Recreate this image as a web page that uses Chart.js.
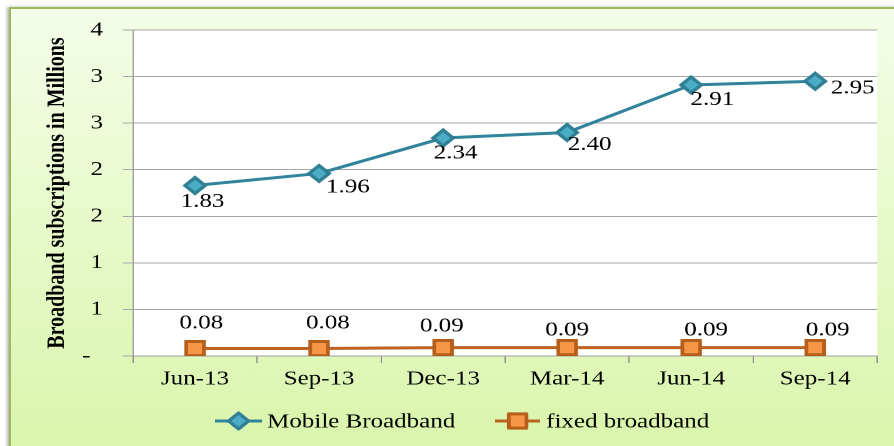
<!DOCTYPE html>
<html><head><meta charset="utf-8">
<script src="https://cdn.jsdelivr.net/npm/chart.js@4"></script>
<style>
html,body{margin:0;padding:0;background:#fff;width:894px;height:446px;overflow:hidden;}
#bg{position:absolute;left:9px;top:7px;width:900px;height:450px;border-left:2px solid #9bbb59;border-top:2px solid #9bbb59;background:linear-gradient(#f4fde8,#d9f5aa);box-shadow:-2px 0 3px rgba(0,0,0,0.3);}
#wrap{position:absolute;left:0;top:0;width:715px;height:446px;transform:scaleX(1.2503);transform-origin:0 0;}
</style></head><body>
<div id="bg"></div>
<div id="wrap"><canvas id="c" width="715" height="446"></canvas></div>
<script>
const categories = ['Jun-13','Sep-13','Dec-13','Mar-14','Jun-14','Sep-14'];
const mobileBroadband = [1.83, 1.96, 2.34, 2.40, 2.91, 2.95];
const fixedBroadband = [0.08, 0.08, 0.09, 0.09, 0.09, 0.09];
const seriesNames = ['Mobile Broadband', 'fixed broadband'];
const yAxisTitle = 'Broadband subscriptions in Millions';
const yMin = 0, yMax = 3.5, yStep = 0.5;

const SERIF = '"Liberation Serif", "Times New Roman", serif';

const styles = [
  {line:'#31849b', fill:'#4bacc6', border:'#2f7f95', style:'rectRot', r:8},
  {line:'#bd6420', fill:'#f79646', border:'#b65f1b', style:'rect', r:10}
];
const labelOffsets = [
  [[6,16],[23,14],[10,15],[18,12.5],[17,15],[30,7]],
  [[5,-25.5],[7,-25.5],[-1,-21.6],[0,-17.6],[12,-17.6],[10,-17.6]]
];

function drawMarker(ctx, st, x, y){
  ctx.save();
  ctx.beginPath();
  if(st.style==='rectRot'){
    ctx.moveTo(x-st.r,y);ctx.lineTo(x,y-st.r);ctx.lineTo(x+st.r,y);ctx.lineTo(x,y+st.r);
  } else {
    const h = st.r*Math.SQRT1_2;
    ctx.rect(x-h,y-h,2*h,2*h);
  }
  ctx.closePath();
  ctx.fillStyle=st.fill;ctx.fill();
  ctx.lineWidth=3;ctx.strokeStyle=st.border;ctx.lineJoin='round';ctx.stroke();
  ctx.restore();
}

const plotBg = {
  id:'plotBg',
  beforeDraw(chart){
    const {ctx, chartArea:a} = chart;
    ctx.save();ctx.fillStyle='#ffffff';ctx.fillRect(a.left,a.top,a.right-a.left,a.bottom-a.top);ctx.restore();
  }
};

const dataLabels = {
  id:'dataLabels',
  afterDatasetsDraw(chart){
    const ctx = chart.ctx;
    ctx.save();
    ctx.font = '20px '+SERIF;
    ctx.fillStyle='#000';ctx.textAlign='center';ctx.textBaseline='middle';
    chart.data.datasets.forEach((ds,i)=>{
      const meta = chart.getDatasetMeta(i);
      meta.data.forEach((pt,j)=>{
        const o = labelOffsets[i][j];
        ctx.fillText(ds.data[j].toFixed(2), pt.x+o[0], pt.y+o[1]);
      });
    });
    ctx.restore();
  }
};

const customLegend = {
  id:'customLegend',
  afterDraw(chart){
    const ctx = chart.ctx;
    const y = 421;
    const items = [{x0:172,x1:209.6,tx:213.6},{x0:396,x1:432,tx:436.8}];
    ctx.save();
    ctx.font='20px '+SERIF;ctx.textAlign='left';ctx.textBaseline='middle';
    items.forEach((it,i)=>{
      const st = styles[i];
      ctx.beginPath();ctx.moveTo(it.x0,y);ctx.lineTo(it.x1,y);
      ctx.strokeStyle=st.line;ctx.lineWidth=3;ctx.stroke();
      drawMarker(ctx, st, (it.x0+it.x1)/2, y);
      ctx.fillStyle='#000';
      ctx.fillText(chart.data.datasets[i].label, it.tx, y+1);
    });
    ctx.restore();
  }
};

const seriesData = [mobileBroadband, fixedBroadband];
new Chart(document.getElementById('c'), {
  type:'line',
  data:{
    labels:categories,
    datasets: seriesData.map((d,i)=>({
      label:seriesNames[i],
      data:d,
      borderColor:styles[i].line,
      borderWidth:3,
      tension:0,
      pointStyle:styles[i].style,
      pointRadius:styles[i].r,
      pointBackgroundColor:styles[i].fill,
      pointBorderColor:styles[i].border,
      pointBorderWidth:3,
      fill:false
    }))
  },
  options:{
    responsive:false,
    devicePixelRatio:2,
    animation:false,
    layout:{padding:{left:0,right:13.4,top:30,bottom:0}},
    plugins:{legend:{display:false},tooltip:{enabled:false}},
    scales:{
      x:{
        type:'category',
        offset:true,
        grid:{offset:true,drawOnChartArea:false,drawTicks:true,tickLength:7,color:'#8c8c8c'},
        border:{display:true,color:'#a0a0a0'},
        ticks:{font:{family:SERIF,size:20},color:'#000',padding:4,maxRotation:0},
        afterFit(s){s.height=90;}
      },
      y:{
        min:yMin,max:yMax,
        ticks:{stepSize:yStep,font:{family:SERIF,size:20},color:'#000',padding:16,
          callback:(v)=> v===0 ? '-  ' : String(Math.round(v))},
        grid:{color:'#a6a6a6',tickLength:8,drawTicks:true},
        border:{display:true,color:'#a0a0a0'},
        title:{display:true,text:yAxisTitle,color:'#000',font:{family:SERIF,size:20,weight:'bold'},padding:{top:33.6,bottom:0}},
        afterFit(s){s.width=106.4;}
      }
    }
  },
  plugins:[plotBg,dataLabels,customLegend]
});
</script>
</body></html>
